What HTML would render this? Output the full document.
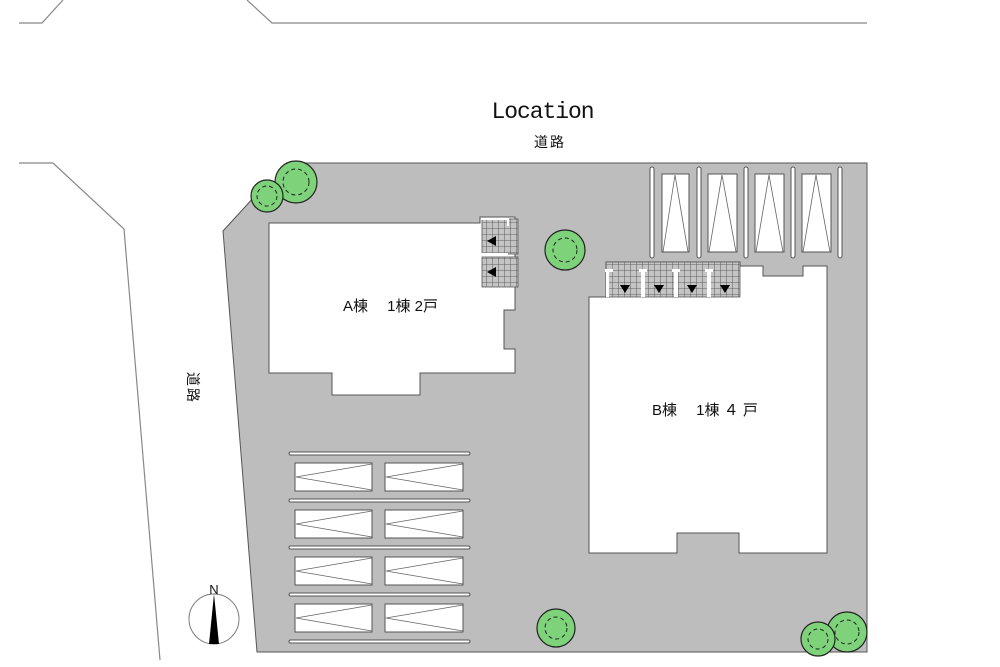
<!DOCTYPE html>
<html><head><meta charset="utf-8"><style>
html,body{margin:0;padding:0;background:#fff}
svg{display:block}
text{font-family:"Liberation Sans","Noto Sans CJK JP",sans-serif;fill:#111}
text.mono{font-family:"Liberation Mono",monospace}
</style></head><body>
<svg width="1000" height="667" viewBox="0 0 1000 667" xmlns="http://www.w3.org/2000/svg">
<defs>
<pattern id="g" width="6" height="6" patternUnits="userSpaceOnUse">
<rect width="6" height="6" fill="#c4c4c4"/>
<path d="M0 0H6M0 0V6" stroke="#444" stroke-width="0.8" fill="none"/>
</pattern>
</defs>
<g stroke="#888" stroke-width="1.2" fill="none">
<polyline points="19,23 42,23 63,0"/>
<polyline points="247,0 272,23 867,23"/>
<polyline points="19,163 53,163 124,229 160,660"/>
</g>
<polygon points="223,231 255,196 300,163 867,163 867,652 257,652" fill="#bdbdbd" stroke="#555" stroke-width="1"/>
<polygon points="269,223 480,223 480,217 515,217 515,310 504,310 504,349 515,349 515,373 420,373 420,395 332,395 332,373 269,373" fill="#fff" stroke="#555" stroke-width="1"/>
<rect x="482" y="219" width="36" height="35" fill="url(#g)" stroke="#555" stroke-width="0.8"/>
<rect x="482" y="257" width="36" height="30" fill="url(#g)" stroke="#555" stroke-width="0.8"/>
<path d="M481 219H508V226M481 254H508" stroke="#fff" stroke-width="2" fill="none"/>
<polygon points="487,241 496,236 496,246" fill="#000"/>
<polygon points="487,272 496,267 496,277" fill="#000"/>
<text x="343" y="311" font-size="15">A棟　 1棟 2戸</text>
<polygon points="589,297 606,297 606,262 740,262 740,266 763,266 763,276 803,276 803,266 827,266 827,553 739,553 739,533 677,533 677,553 589,553" fill="#fff" stroke="#555" stroke-width="1"/>
<rect x="606" y="262" width="134" height="35" fill="url(#g)" stroke="#555" stroke-width="0.8"/>
<g fill="#fff"><rect x="606" y="271" width="3" height="26"/><rect x="641" y="271" width="4" height="26"/><rect x="674" y="271" width="4" height="26"/><rect x="707" y="271" width="4" height="26"/>
<rect x="605" y="269" width="8" height="3"/><rect x="639" y="269" width="8" height="3"/><rect x="672" y="269" width="8" height="3"/><rect x="705" y="269" width="8" height="3"/></g>
<g fill="#000"><polygon points="620,285 630,285 625,293"/><polygon points="654,285 664,285 659,293"/><polygon points="687,285 697,285 692,293"/><polygon points="720,285 730,285 725,293"/></g>
<text x="652" y="415" font-size="15">B棟　 1棟 ４ 戸</text>
<g fill="#fff" stroke="#555" stroke-width="1">
<rect x="650" y="167" width="4" height="91" rx="2"/><rect x="697" y="167" width="4" height="91" rx="2"/><rect x="744" y="167" width="4" height="91" rx="2"/><rect x="791" y="167" width="4" height="91" rx="2"/><rect x="838" y="167" width="4" height="91" rx="2"/>
<rect x="662" y="174" width="27" height="78"/><rect x="708" y="174" width="29" height="78"/><rect x="755" y="174" width="29" height="78"/><rect x="802" y="174" width="29" height="78"/>
</g>
<g stroke="#666" stroke-width="0.8" fill="none">
<polyline points="663,252 675,175 688,252"/><polyline points="709,252 722,175 736,252"/><polyline points="756,252 769,175 783,252"/><polyline points="803,252 816,175 830,252"/>
</g>
<g fill="#fff" stroke="#555" stroke-width="1">
<rect x="289" y="452" width="181" height="3" rx="1.5"/><rect x="289" y="499" width="181" height="3" rx="1.5"/><rect x="289" y="546" width="181" height="3" rx="1.5"/><rect x="289" y="593" width="181" height="3" rx="1.5"/><rect x="289" y="640" width="181" height="3" rx="1.5"/>
<rect x="295" y="463" width="77" height="28"/><rect x="385" y="463" width="78" height="28"/>
<rect x="295" y="510" width="77" height="28"/><rect x="385" y="510" width="78" height="28"/>
<rect x="295" y="557" width="77" height="28"/><rect x="385" y="557" width="78" height="28"/>
<rect x="295" y="604" width="77" height="28"/><rect x="385" y="604" width="78" height="28"/>
</g>
<g stroke="#666" stroke-width="0.8" fill="none">
<polyline points="372,464 296,477 372,490"/><polyline points="463,464 386,477 463,490"/>
<polyline points="372,511 296,524 372,537"/><polyline points="463,511 386,524 463,537"/>
<polyline points="372,558 296,571 372,584"/><polyline points="463,558 386,571 463,584"/>
<polyline points="372,605 296,618 372,631"/><polyline points="463,605 386,618 463,631"/>
</g>
<g fill="#7dd27a" stroke="#222" stroke-width="1.2">
<circle cx="296" cy="182" r="21"/><circle cx="267" cy="196" r="16"/>
<circle cx="565" cy="250" r="20"/><circle cx="556" cy="628" r="19"/>
<circle cx="847" cy="632" r="20"/><circle cx="818" cy="639" r="17"/>
</g>
<g fill="none" stroke="#222" stroke-width="1" stroke-dasharray="4 3">
<circle cx="296" cy="182" r="13"/><circle cx="267" cy="196" r="10"/>
<circle cx="565" cy="250" r="12"/><circle cx="556" cy="628" r="11"/>
<circle cx="847" cy="632" r="12"/><circle cx="818" cy="639" r="10"/>
</g>
<circle cx="214" cy="619" r="25" fill="#fff" stroke="#777" stroke-width="1"/>
<polygon points="214,594 209,644 219,644" fill="#000"/>
<text x="214" y="594" font-size="13" text-anchor="middle">N</text>
<text class="mono" x="543" y="118" font-size="23" text-anchor="middle" textLength="103" lengthAdjust="spacing">Location</text>
<text x="550" y="147" font-size="14" text-anchor="middle" letter-spacing="2">道路</text>
<text transform="translate(188,372) rotate(90)" font-size="14" letter-spacing="2">道路</text>
</svg>
</body></html>
